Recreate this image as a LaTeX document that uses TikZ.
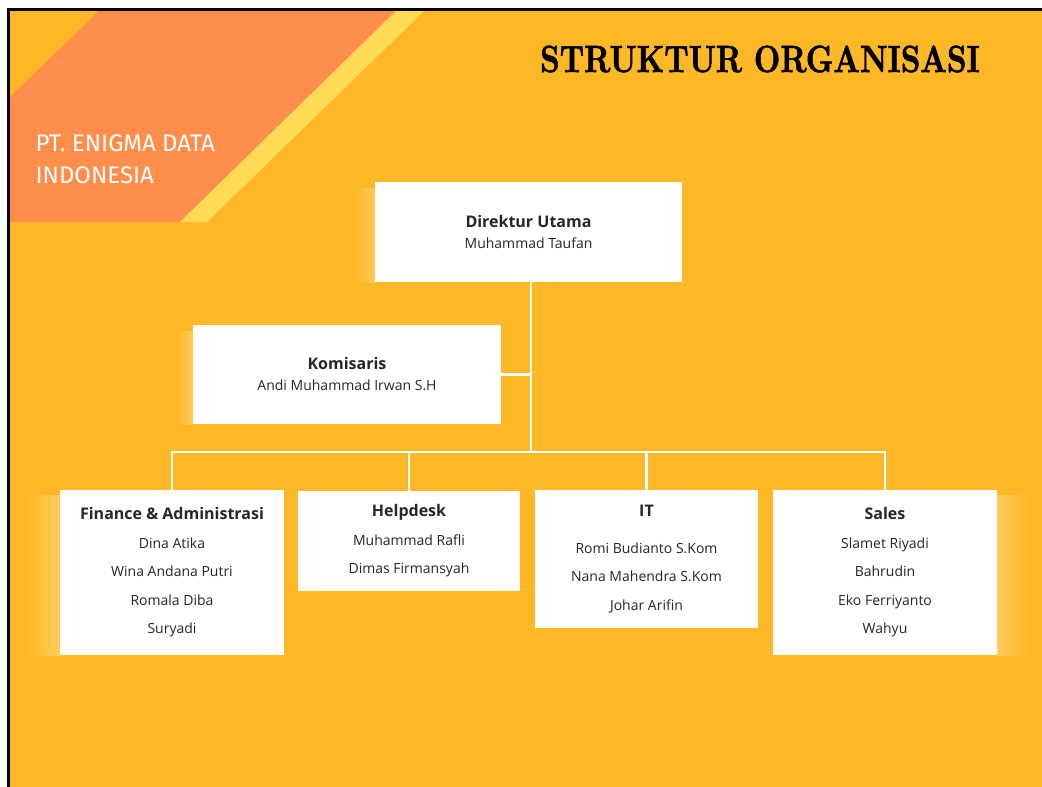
\documentclass[tikz,border=0pt]{standalone}
\usepackage{fontspec}
\setmainfont{Open Sans}
\newfontfamily\bannerfont{Fira Sans}
\newfontfamily\titlefont{lmroman10-bold}[Extension=.otf, FakeBold=1.5]
\usetikzlibrary{positioning}

\definecolor{bgyellow}{HTML}{FFB825}
\definecolor{banner}{HTML}{FF8E4D}
\definecolor{stripe}{HTML}{FFDA55}
\definecolor{glow}{HTML}{FFCC5E}
\definecolor{inktext}{HTML}{262626}

\tikzset{
  unit/.style={fill=white, draw=none, align=center, text=inktext,
    font=\fontsize{14}{28.5}\selectfont, inner sep=0pt},
  topunit/.style={unit, font=\fontsize{14}{21}\selectfont},
  link/.style={draw=white, line width=2.5pt},
}
\newcommand{\head}[1]{{\bfseries\fontsize{16}{20}\selectfont #1}}

\begin{document}
\begin{tikzpicture}[x=1pt,y=-1pt]
  \useasboundingbox (0,0) rectangle (1042,787);
  % background and frame
  \fill[bgyellow] (8,9) rectangle (1042,787);
  \fill[banner] (100,10) -- (397,10) -- (180,222) -- (10,222) -- (10,97) -- cycle;
  \fill[stripe] (397,10) -- (425,10) -- (207,222) -- (180,222) -- cycle;
  \draw[line width=3pt] (8,787) -- (8,9) -- (1042,9);

  % soft glows beside the boxes
  \shade[left color=bgyellow, right color=glow] (355,188) rectangle (375,282);
  \shade[left color=bgyellow, right color=glow] (177,331) rectangle (193,424);
  \shade[left color=bgyellow, right color=glow] (28,495) rectangle (60,655);
  \shade[left color=glow, right color=bgyellow] (997,495) rectangle (1028,655);

  % titles
  \node[anchor=west, text=white, align=left, font=\bannerfont\fontsize{24}{32}\selectfont]
    (company) at (32,159) {PT. ENIGMA DATA\\INDONESIA};
  \node[font=\titlefont\fontsize{38}{44}\selectfont] (title) at (760,59)
    {\scalebox{0.805}[1]{STRUKTUR ORGANISASI}};

  % boxes
  \node[topunit, minimum width=307pt, minimum height=100pt] (dir) at (528.5,232)
    {\head{Direktur Utama}\\Muhammad Taufan};
  \node[topunit, minimum width=308pt, minimum height=99pt] (kom) at (347,374.5)
    {\head{Komisaris}\\Andi Muhammad Irwan S.H};
  \node[unit, minimum width=224pt, minimum height=165pt] (fin) at (172,572.5)
    {\head{Finance \& Administrasi}\\Dina Atika\\Wina Andana Putri\\Romala Diba\\Suryadi};
  \node[unit, minimum width=222pt, minimum height=100pt] (help) at (409,541)
    {\head{Helpdesk}\\Muhammad Rafli\\Dimas Firmansyah};
  \node[unit, minimum width=223pt, minimum height=138pt] (it) at (646.5,559)
    {\head{IT}\\[8pt]Romi Budianto S.Kom\\Nana Mahendra S.Kom\\Johar Arifin};
  \node[unit, minimum width=224pt, minimum height=165pt] (sales) at (885,572.5)
    {\head{Sales}\\Slamet Riyadi\\Bahrudin\\Eko Ferriyanto\\Wahyu};

  % connectors
  \coordinate (bus) at (531,452);
  \draw[link] (dir.south -| bus) -- (bus);
  \draw[link] (kom.east) -- (kom.east -| bus);
  \draw[link] (fin.north) -- (fin.north |- bus) -- (sales.north |- bus) -- (sales.north);
  \draw[link] (help.north) -- (help.north |- bus);
  \draw[link] (it.north) -- (it.north |- bus);
\end{tikzpicture}
\end{document}
